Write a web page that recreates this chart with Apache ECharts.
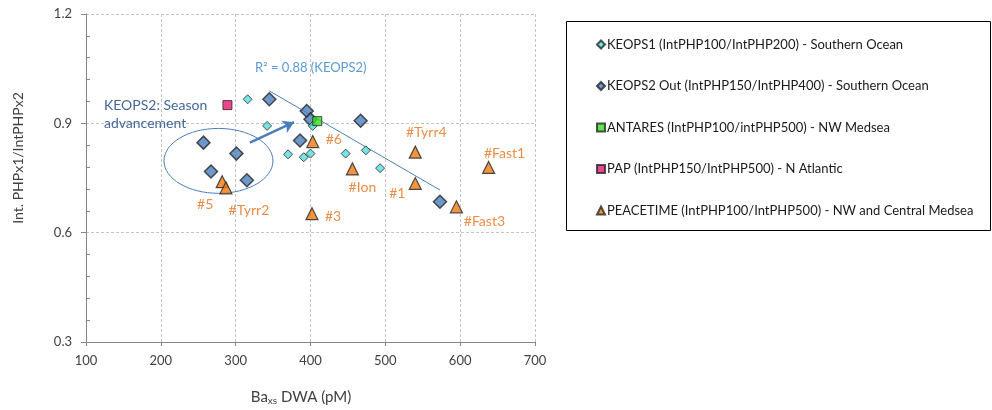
<!DOCTYPE html>
<html>
<head>
<meta charset="utf-8">
<script src="https://cdn.jsdelivr.net/npm/echarts@6/dist/echarts.min.js"></script>
<style>
  html, body { margin: 0; padding: 0; background: #fff; }
  #chart { width: 992px; height: 410px; }
</style>
</head>
<body>
<div id="chart"></div>
<script>
// data
const keops1 = [[316, 0.966], [342, 0.893], [403, 0.893], [370, 0.815], [391, 0.807], [400, 0.817], [447, 0.817], [474, 0.826], [493, 0.777]]
const keops2 = [[345, 0.966], [395, 0.934], [400, 0.911], [467, 0.907], [386, 0.853], [257, 0.847], [301, 0.817], [267, 0.768], [315, 0.744], [573, 0.685]]
const antares = [[409, 0.906]]
const pap = [[289, 0.950]]
const peacetimeNames = ['#5', '#Tyrr2', '#3', '#6', '#Ion', '#1', '#Tyrr4', '#Fast1', '#Fast3']
const peacetimeX = [282, 287, 402, 403, 456, 540, 540, 638, 595]
const peacetimeY = [0.740, 0.723, 0.652, 0.850, 0.775, 0.735, 0.821, 0.779, 0.671]
const trendX = [345, 573]
const trendY = [0.989, 0.717]
const seriesNames = [
  'KEOPS1 (IntPHP100/IntPHP200) - Southern Ocean',
  'KEOPS2 Out (IntPHP150/IntPHP400) - Southern Ocean',
  'ANTARES (IntPHP100/intPHP500) - NW Medsea',
  'PAP (IntPHP150/IntPHP500) - N Atlantic',
  'PEACETIME (IntPHP100/IntPHP500) - NW and Central Medsea'
]

const FONT = 'Lato, "Open Sans", sans-serif'
const BORDER = '#262626'

// label offsets for PEACETIME point names
const labelOffsets = {
  '#5': [-17, 23], '#Tyrr2': [23, 23], '#3': [21, 3], '#6': [21, -2], '#Ion': [10, 19],
  '#1': [-18, 10], '#Tyrr4': [11, -20], '#Fast1': [16, -14], '#Fast3': [28, 15]
}

const peacetimeData = peacetimeNames.map((n, i) => ({
  name: n,
  value: [peacetimeX[i], peacetimeY[i]],
  label: { offset: labelOffsets[n] }
}))

const chart = echarts.init(document.getElementById('chart'))

const option = {
  animation: false,
  textStyle: { fontFamily: FONT },
  grid: { left: 86, right: 457, top: 14, bottom: 68 },
  legend: {
    orient: 'vertical',
    left: 591,
    top: 33,
    itemGap: 28.5,
    itemWidth: 8,
    itemHeight: 8,
    data: seriesNames,
    textStyle: { fontFamily: FONT, fontSize: 13, color: '#1a1a1a', padding: [0, 0, 0, -3] }
  },
  xAxis: {
    type: 'value',
    min: 100,
    max: 700,
    interval: 100,
    axisLine: { lineStyle: { color: '#868686' } },
    axisTick: { length: 4, lineStyle: { color: '#868686' } },
    axisLabel: { color: '#404040', fontSize: 13, margin: 12 },
    splitLine: { lineStyle: { color: '#c4c4c4', type: [3, 2] } }
  },
  yAxis: {
    type: 'value',
    min: 0.3,
    max: 1.2,
    interval: 0.3,
    axisLine: { show: true, lineStyle: { color: '#868686' } },
    axisTick: { show: true, length: 5, lineStyle: { color: '#868686' } },
    minorTick: { show: true, splitNumber: 5, length: -4, lineStyle: { color: '#868686' } },
    axisLabel: { color: '#404040', fontSize: 13, margin: 14, formatter: v => v.toFixed(1) },
    splitLine: { lineStyle: { color: '#c4c4c4', type: [3, 2] } }
  },
  series: [
    {
      name: 'trend',
      type: 'line',
      data: trendX.map((x, i) => [x, trendY[i]]),
      showSymbol: false,
      symbol: 'none',
      lineStyle: { color: '#4a7ebb', width: 1 },
      z: 1,
      markLine: {
        silent: true,
        symbol: ['none', 'arrow'],
        symbolSize: [10, 11],
        label: { show: false },
        lineStyle: { color: '#4a7ebb', width: 2.5, type: 'solid' },
        data: [[{ coord: [319, 0.847] }, { coord: [378, 0.903] }]]
      }
    },
    {
      name: seriesNames[0],
      type: 'scatter',
      symbol: 'diamond',
      symbolSize: 9,
      data: keops1,
      itemStyle: { color: '#55dcdc', borderColor: BORDER, borderWidth: 1 },
      z: 3
    },
    {
      name: seriesNames[1],
      type: 'scatter',
      symbol: 'diamond',
      symbolSize: 13,
      data: keops2,
      itemStyle: { color: '#4a7ebb', borderColor: BORDER, borderWidth: 1.5 },
      z: 2
    },
    {
      name: seriesNames[2],
      type: 'scatter',
      symbol: 'rect',
      symbolSize: 9,
      data: antares,
      itemStyle: { color: '#33e01a', borderColor: BORDER, borderWidth: 1 },
      z: 4
    },
    {
      name: seriesNames[3],
      type: 'scatter',
      symbol: 'rect',
      symbolSize: 9,
      data: pap,
      itemStyle: { color: '#e8186d', borderColor: BORDER, borderWidth: 1 },
      z: 4
    },
    {
      name: seriesNames[4],
      type: 'scatter',
      symbol: 'triangle',
      symbolSize: 12,
      data: peacetimeData,
      itemStyle: { color: '#f07a10', borderColor: BORDER, borderWidth: 1.2 },
      label: {
        show: true,
        position: 'inside',
        formatter: '{b}',
        color: '#e8701a',
        fontSize: 14,
        fontFamily: FONT
      },
      z: 4
    }
  ]
}

chart.setOption(option)

// annotations placed from data coordinates
const toPx = p => chart.convertToPixel({ gridIndex: 0 }, p)
const c = toPx([277, 0.797])
const rx = toPx([277 + 72.8, 0.797])[0] - c[0]
const ry = c[1] - toPx([277, 0.797 + 0.089])[1]
const r2 = toPx([326, 1.051])
const season = toPx([124, 0.972])

chart.setOption({
  graphic: [
    {
      type: 'ellipse',
      shape: { cx: c[0], cy: c[1], rx: rx, ry: ry },
      style: { fill: 'none', stroke: '#4a7ebb', lineWidth: 1 },
      z: 1
    },
    {
      type: 'text',
      x: r2[0],
      y: r2[1],
      style: {
        text: 'R² = 0.88 (KEOPS2)',
        fill: '#5b9bd5',
        font: '13px ' + FONT,
        textVerticalAlign: 'middle'
      }
    },
    {
      type: 'text',
      x: season[0],
      y: season[1],
      style: {
        text: 'KEOPS2: Season\nadvancement',
        fill: '#44679a',
        font: '14px ' + FONT,
        lineHeight: 17.5
      }
    },
    {
      type: 'rect',
      shape: { x: 566.5, y: 21.5, width: 424, height: 209 },
      style: { fill: 'none', stroke: '#000', lineWidth: 1 }
    },
    {
      type: 'text',
      x: 18,
      y: 158,
      rotation: Math.PI / 2,
      style: {
        text: 'Int. PHPx1/IntPHPx2',
        fill: '#404040',
        font: '14px ' + FONT,
        textAlign: 'center',
        textVerticalAlign: 'middle'
      }
    },
    {
      type: 'text',
      x: 301,
      y: 397,
      style: {
        text: 'Ba{sub|xs} DWA (pM)',
        fill: '#404040',
        font: '15px ' + FONT,
        textAlign: 'center',
        textVerticalAlign: 'middle',
        rich: {
          sub: { fontSize: 10, fill: '#404040', fontFamily: FONT, verticalAlign: 'bottom', padding: [7, 0, 0, 0] }
        }
      }
    }
  ]
})
</script>
</body>
</html>
